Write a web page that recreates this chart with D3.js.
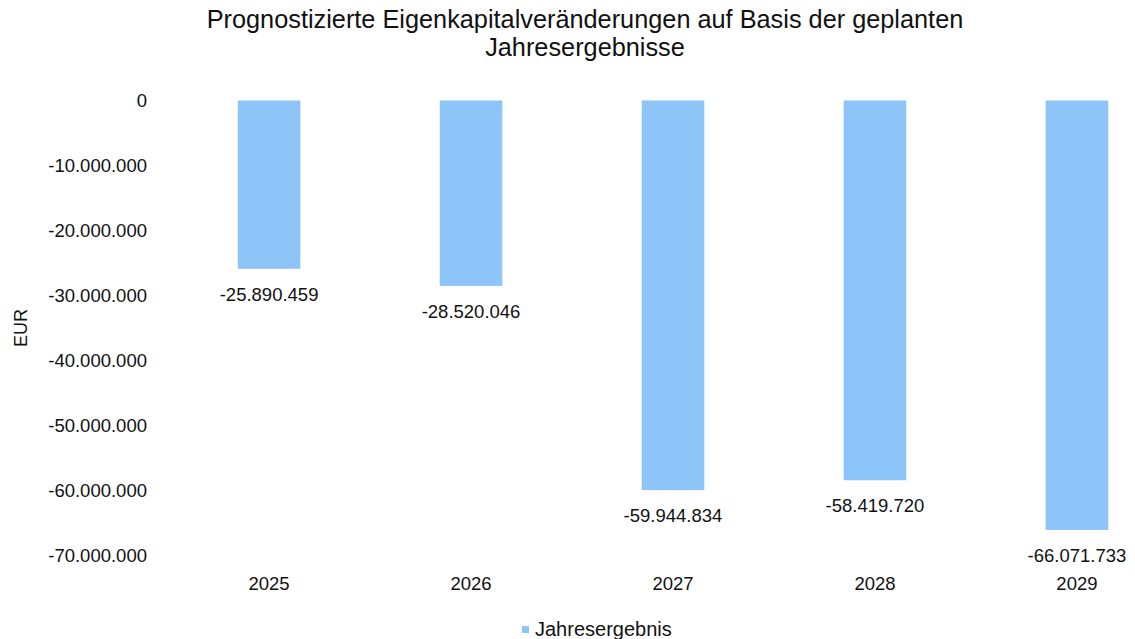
<!DOCTYPE html>
<html>
<head>
<meta charset="utf-8">
<title>Eigenkapitalveränderungen</title>
<script src="https://d3js.org/d3.v7.min.js"></script>
<style>
  body { margin: 0; background: #fff; }
  svg { display: block; font-family: "Liberation Sans", Arial, sans-serif; }
</style>
</head>
<body>
<svg width="1135" height="639"></svg>
<script>
  // data
  var years = ["2025", "2026", "2027", "2028", "2029"];
  var jahresergebnis = [-25890459, -28520046, -59944834, -58419720, -66071733];
  var yTicks = [0, -10000000, -20000000, -30000000, -40000000, -50000000, -60000000, -70000000];
  var titleLines = ["Prognostizierte Eigenkapitalveränderungen auf Basis der geplanten", "Jahresergebnisse"];
  var seriesName = "Jahresergebnis";

  var svg = d3.select("svg"),
      barColor = "#8dc5f8";

  var fmt = d3.formatLocale({ decimal: ",", thousands: ".", grouping: [3], currency: ["", " €"], minus: "-" }).format(",d");

  var x = d3.scaleBand()
      .domain(years)
      .range([200, 1146])
      .paddingInner(0.69)
      .paddingOuter(0.187);

  var y = d3.scaleLinear()
      .domain([-70000000, 0])
      .range([555.5, 100.5]);

  // title
  svg.append("text")
      .attr("x", 585)
      .attr("y", 28)
      .attr("text-anchor", "middle")
      .style("font-size", "25.3px")
      .attr("fill", "#111")
      .selectAll("tspan")
      .data(titleLines)
      .enter().append("tspan")
      .attr("x", 585)
      .attr("dy", function(d, i) { return i ? 28 : 0; })
      .text(function(d) { return d; });

  // y axis, labels only
  var yAxis = svg.append("g")
      .attr("transform", "translate(147,0)")
      .call(d3.axisLeft(y).tickValues(yTicks).tickFormat(fmt).tickSize(0).tickPadding(0));
  yAxis.select(".domain").remove();
  yAxis.selectAll("text")
      .attr("dy", "0.35em")
      .style("font-size", "18.5px")
      .style("font-family", "\"Liberation Sans\", Arial, sans-serif")
      .attr("fill", "#111");

  svg.append("text")
      .attr("transform", "translate(27,328) rotate(-90)")
      .attr("text-anchor", "middle")
      .style("font-size", "18px")
      .attr("fill", "#111")
      .text("EUR");

  // bars
  svg.selectAll("rect.bar")
      .data(jahresergebnis)
      .enter().append("rect")
      .attr("class", "bar")
      .attr("x", function(d, i) { return x(years[i]); })
      .attr("y", y(0))
      .attr("width", x.bandwidth())
      .attr("height", function(d) { return y(d) - y(0); })
      .attr("fill", barColor);

  // value labels
  svg.selectAll("text.val")
      .data(jahresergebnis)
      .enter().append("text")
      .attr("class", "val")
      .attr("x", function(d, i) { return x(years[i]) + x.bandwidth() / 2; })
      .attr("y", function(d) { return y(d) + 32; })
      .attr("text-anchor", "middle")
      .style("font-size", "18.5px")
      .attr("fill", "#111")
      .text(function(d) { return fmt(d); });

  // category labels
  var xAxis = svg.append("g")
      .attr("transform", "translate(0,576)")
      .call(d3.axisBottom(x).tickSize(0).tickPadding(0));
  xAxis.select(".domain").remove();
  xAxis.selectAll("text")
      .attr("dy", "0.75em")
      .style("font-size", "18.5px")
      .style("font-family", "\"Liberation Sans\", Arial, sans-serif")
      .attr("fill", "#111");

  // legend
  var legend = svg.append("g").attr("transform", "translate(522,629)");
  legend.append("rect")
      .attr("x", 0).attr("y", -3)
      .attr("width", 7).attr("height", 7)
      .attr("fill", barColor);
  legend.append("text")
      .attr("x", 13).attr("y", 7)
      .style("font-size", "20px")
      .attr("fill", "#111")
      .text(seriesName);
</script>
</body>
</html>
